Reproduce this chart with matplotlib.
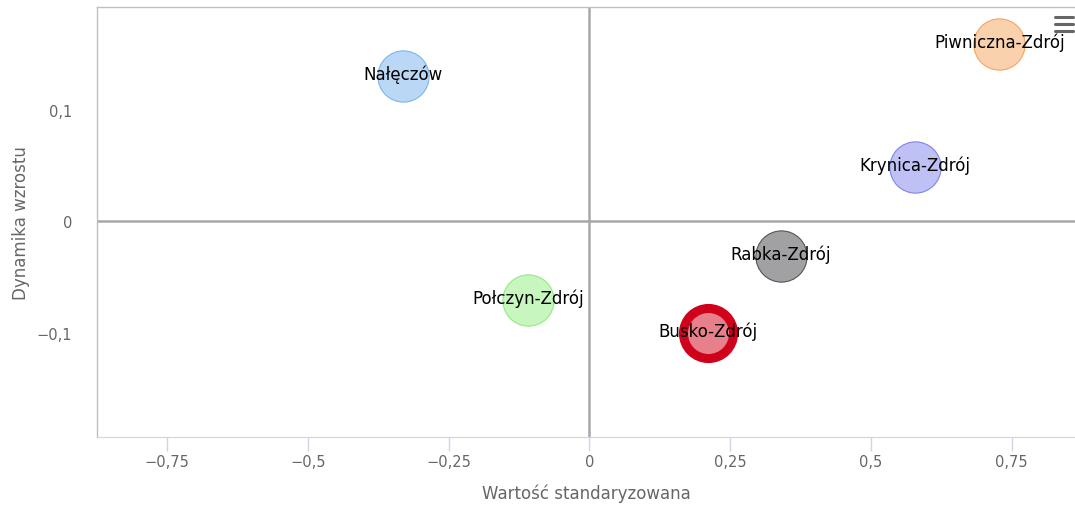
import matplotlib.pyplot as plt
from matplotlib.lines import Line2D
from matplotlib.ticker import FuncFormatter

# values
names = ['Nałęczów', 'Piwniczna-Zdrój', 'Krynica-Zdrój', 'Rabka-Zdrój', 'Połczyn-Zdrój', 'Busko-Zdrój']
x_std = [-0.331, 0.728, 0.578, 0.340, -0.109, 0.210]
y_dyn = [0.1305, 0.1596, 0.0493, -0.0305, -0.0704, -0.1004]
fills = ['#bad8f6', '#f9d1ad', '#bfc1f4', '#a1a1a3', '#c8f6bf', '#e8808c']
edges = ['#7cb5ec', '#f7a35c', '#8085e9', '#555557', '#90ed7d', '#d0021b']
x_ticks = [-0.75, -0.5, -0.25, 0, 0.25, 0.5, 0.75]
y_ticks = [-0.1, 0, 0.1]

fig = plt.figure(figsize=(10.75, 5.06), dpi=100)
ax = fig.add_axes([97 / 1075, 68 / 506, 978 / 1075, 430 / 506])
ax.set_xlim(-0.8748, 0.8624)
ax.set_ylim(-0.1933, 0.1924)

ax.axvline(0, color='#a8a8a8', lw=1.8, zorder=1)
ax.axhline(0, color='#a8a8a8', lw=1.8, zorder=1)

for i, name in enumerate(names):
    if name == 'Busko-Zdrój':
        ax.scatter(x_std[i], y_dyn[i], s=1300, c=fills[i], edgecolors=edges[i],
                   linewidths=6.5, zorder=3)
    else:
        ax.scatter(x_std[i], y_dyn[i], s=1360, c=fills[i], edgecolors=edges[i],
                   linewidths=0.8, zorder=3)
    ax.text(x_std[i], y_dyn[i] + 0.002, name, ha='center', va='center',
            fontsize=12, color='#000000', zorder=4)

def fmt(v, pos):
    s = ('%g' % round(v, 2)).replace('.', ',')
    return s.replace('-', '\u2212')

ax.set_xticks(x_ticks)
ax.set_yticks(y_ticks)
ax.xaxis.set_major_formatter(FuncFormatter(fmt))
ax.yaxis.set_major_formatter(FuncFormatter(fmt))
ax.tick_params(axis='x', length=10, width=1, color='#ccd6eb', labelcolor='#666666',
               labelsize=10.5, pad=2)
ax.tick_params(axis='y', length=0, labelcolor='#666666', labelsize=10.5, pad=18)

for side in ['left', 'top']:
    ax.spines[side].set_color('#c0c0c0')
    ax.spines[side].set_linewidth(1)
ax.spines['bottom'].set_color('#ccd6eb')
ax.spines['right'].set_visible(False)

ax.set_xlabel('Wartość standaryzowana', fontsize=12, color='#666666', va='center')
ax.xaxis.set_label_coords(0.5, -0.130)
ax.set_ylabel('Dynamika wzrostu', fontsize=12, color='#666666', va='center')
ax.yaxis.set_label_coords(-0.078, 0.5)

# context menu icon
for yy in [18, 25, 32]:
    fig.add_artist(Line2D([1055 / 1075, 1073 / 1075], [1 - yy / 506, 1 - yy / 506],
                          color='#666666', lw=2.2, solid_capstyle='round'))

fig.savefig('out.png', dpi=100)
